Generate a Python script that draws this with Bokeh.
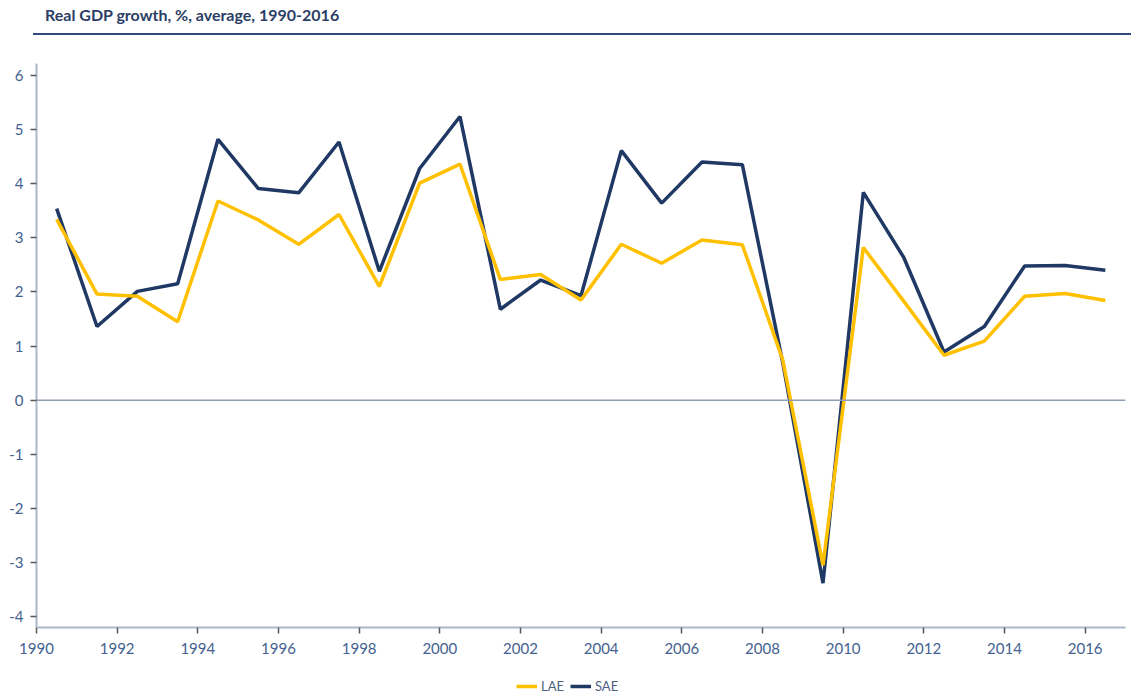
from bokeh.plotting import figure
from bokeh.models import Range1d, FixedTicker, Span, Legend, LegendItem, Div
from bokeh.layouts import column
from bokeh.embed import file_html
from bokeh.resources import INLINE

years = list(range(1990, 2017))
lae = [3.34, 1.96, 1.92, 1.45, 3.68, 3.33, 2.88, 3.43, 2.10, 4.01, 4.36, 2.23, 2.32, 1.85,
       2.88, 2.53, 2.96, 2.87, 0.75, -3.05, 2.82, 1.83, 0.83, 1.09, 1.92, 1.97, 1.84]
sae = [3.54, 1.36, 2.01, 2.15, 4.82, 3.91, 3.83, 4.77, 2.38, 4.28, 5.24, 1.68, 2.22, 1.93,
       4.61, 3.64, 4.40, 4.35, 0.70, -3.38, 3.84, 2.64, 0.89, 1.36, 2.48, 2.49, 2.40]
series_names = ["LAE", "SAE"]
x_ticks = list(range(1990, 2017, 2))
y_ticks = list(range(-4, 7))
title_text = "Real GDP growth, %, average, 1990-2016"

xs = [y + 0.5 for y in years]

TICK_COLOR = "#44618F"
AXIS_COLOR = "#A9B7CC"
NAVY = "#1F3864"
GOLD = "#FFC000"
LINE_W = 3.5

title = Div(
    text=(f'<div style="margin-left:33px;width:1098px;height:35px;box-sizing:border-box;'
          f'border-bottom:2px solid #30497C;padding:6px 0 0 12px;font-family:Lato;'
          f'font-weight:bold;font-size:16px;line-height:18px;color:#2B3E66;white-space:nowrap;">'
          f'{title_text}</div>'),
    width=1131, height=36, margin=(0, 0, 0, 0),
)

p = figure(width=1131, height=640, output_backend="svg", toolbar_location=None,
           x_range=Range1d(1990, 2017), y_range=Range1d(-4.2, 6.22),
           min_border_left=36, min_border_right=6, min_border_top=27, min_border_bottom=49,
           margin=(0, 0, 0, 0))
p.outline_line_color = None
p.xgrid.visible = False
p.ygrid.visible = False

zero = Span(location=0, dimension="width", line_color="#8D9DB5", line_width=1.5)
p.add_layout(zero)

p.line(xs, sae, line_color=NAVY, line_width=LINE_W)
p.line(xs, lae, line_color=GOLD, line_width=LINE_W)

for ax in (p.xaxis[0], p.yaxis[0]):
    ax.axis_line_color = AXIS_COLOR
    ax.axis_line_width = 2
    ax.major_tick_line_color = "#595959"
    ax.major_tick_line_width = 1.5
    ax.major_tick_in = 0
    ax.major_tick_out = 6
    ax.minor_tick_line_color = None
    ax.major_label_text_color = TICK_COLOR
    ax.major_label_text_font = "Lato"
    ax.major_label_text_font_size = "15px"

p.xaxis[0].ticker = FixedTicker(ticks=x_ticks)
p.yaxis[0].ticker = FixedTicker(ticks=y_ticks)
p.yaxis[0].major_label_overrides = {t: str(t) for t in y_ticks}
p.xaxis[0].major_label_standoff = 9
p.yaxis[0].major_label_standoff = 7

# legend strip below the chart (series drawn outside its visible range; only the legend shows)
pl = figure(width=1131, height=20, output_backend="svg", toolbar_location=None,
            x_range=Range1d(0, 1), y_range=Range1d(0, 1), min_border=0,
            margin=(0, 0, 0, 0))
pl.axis.visible = False
pl.xgrid.visible = False
pl.ygrid.visible = False
pl.outline_line_color = None
l_lae = pl.line(xs, lae, line_color=GOLD, line_width=LINE_W)
l_sae = pl.line(xs, sae, line_color=NAVY, line_width=LINE_W)
legend = Legend(
    items=[LegendItem(label=series_names[0], renderers=[l_lae]),
           LegendItem(label=series_names[1], renderers=[l_sae])],
    orientation="horizontal", location=(480, 2),
    border_line_color=None, background_fill_alpha=0,
    padding=0, margin=0, spacing=6, label_standoff=4,
    glyph_width=21, glyph_height=12, label_height=12,
    label_text_font="Lato", label_text_font_size="13px", label_text_color="#4D5F80",
)
pl.add_layout(legend, "center")

layout = column(title, p, pl)
open("out.html", "w").write(file_html(layout, INLINE))
